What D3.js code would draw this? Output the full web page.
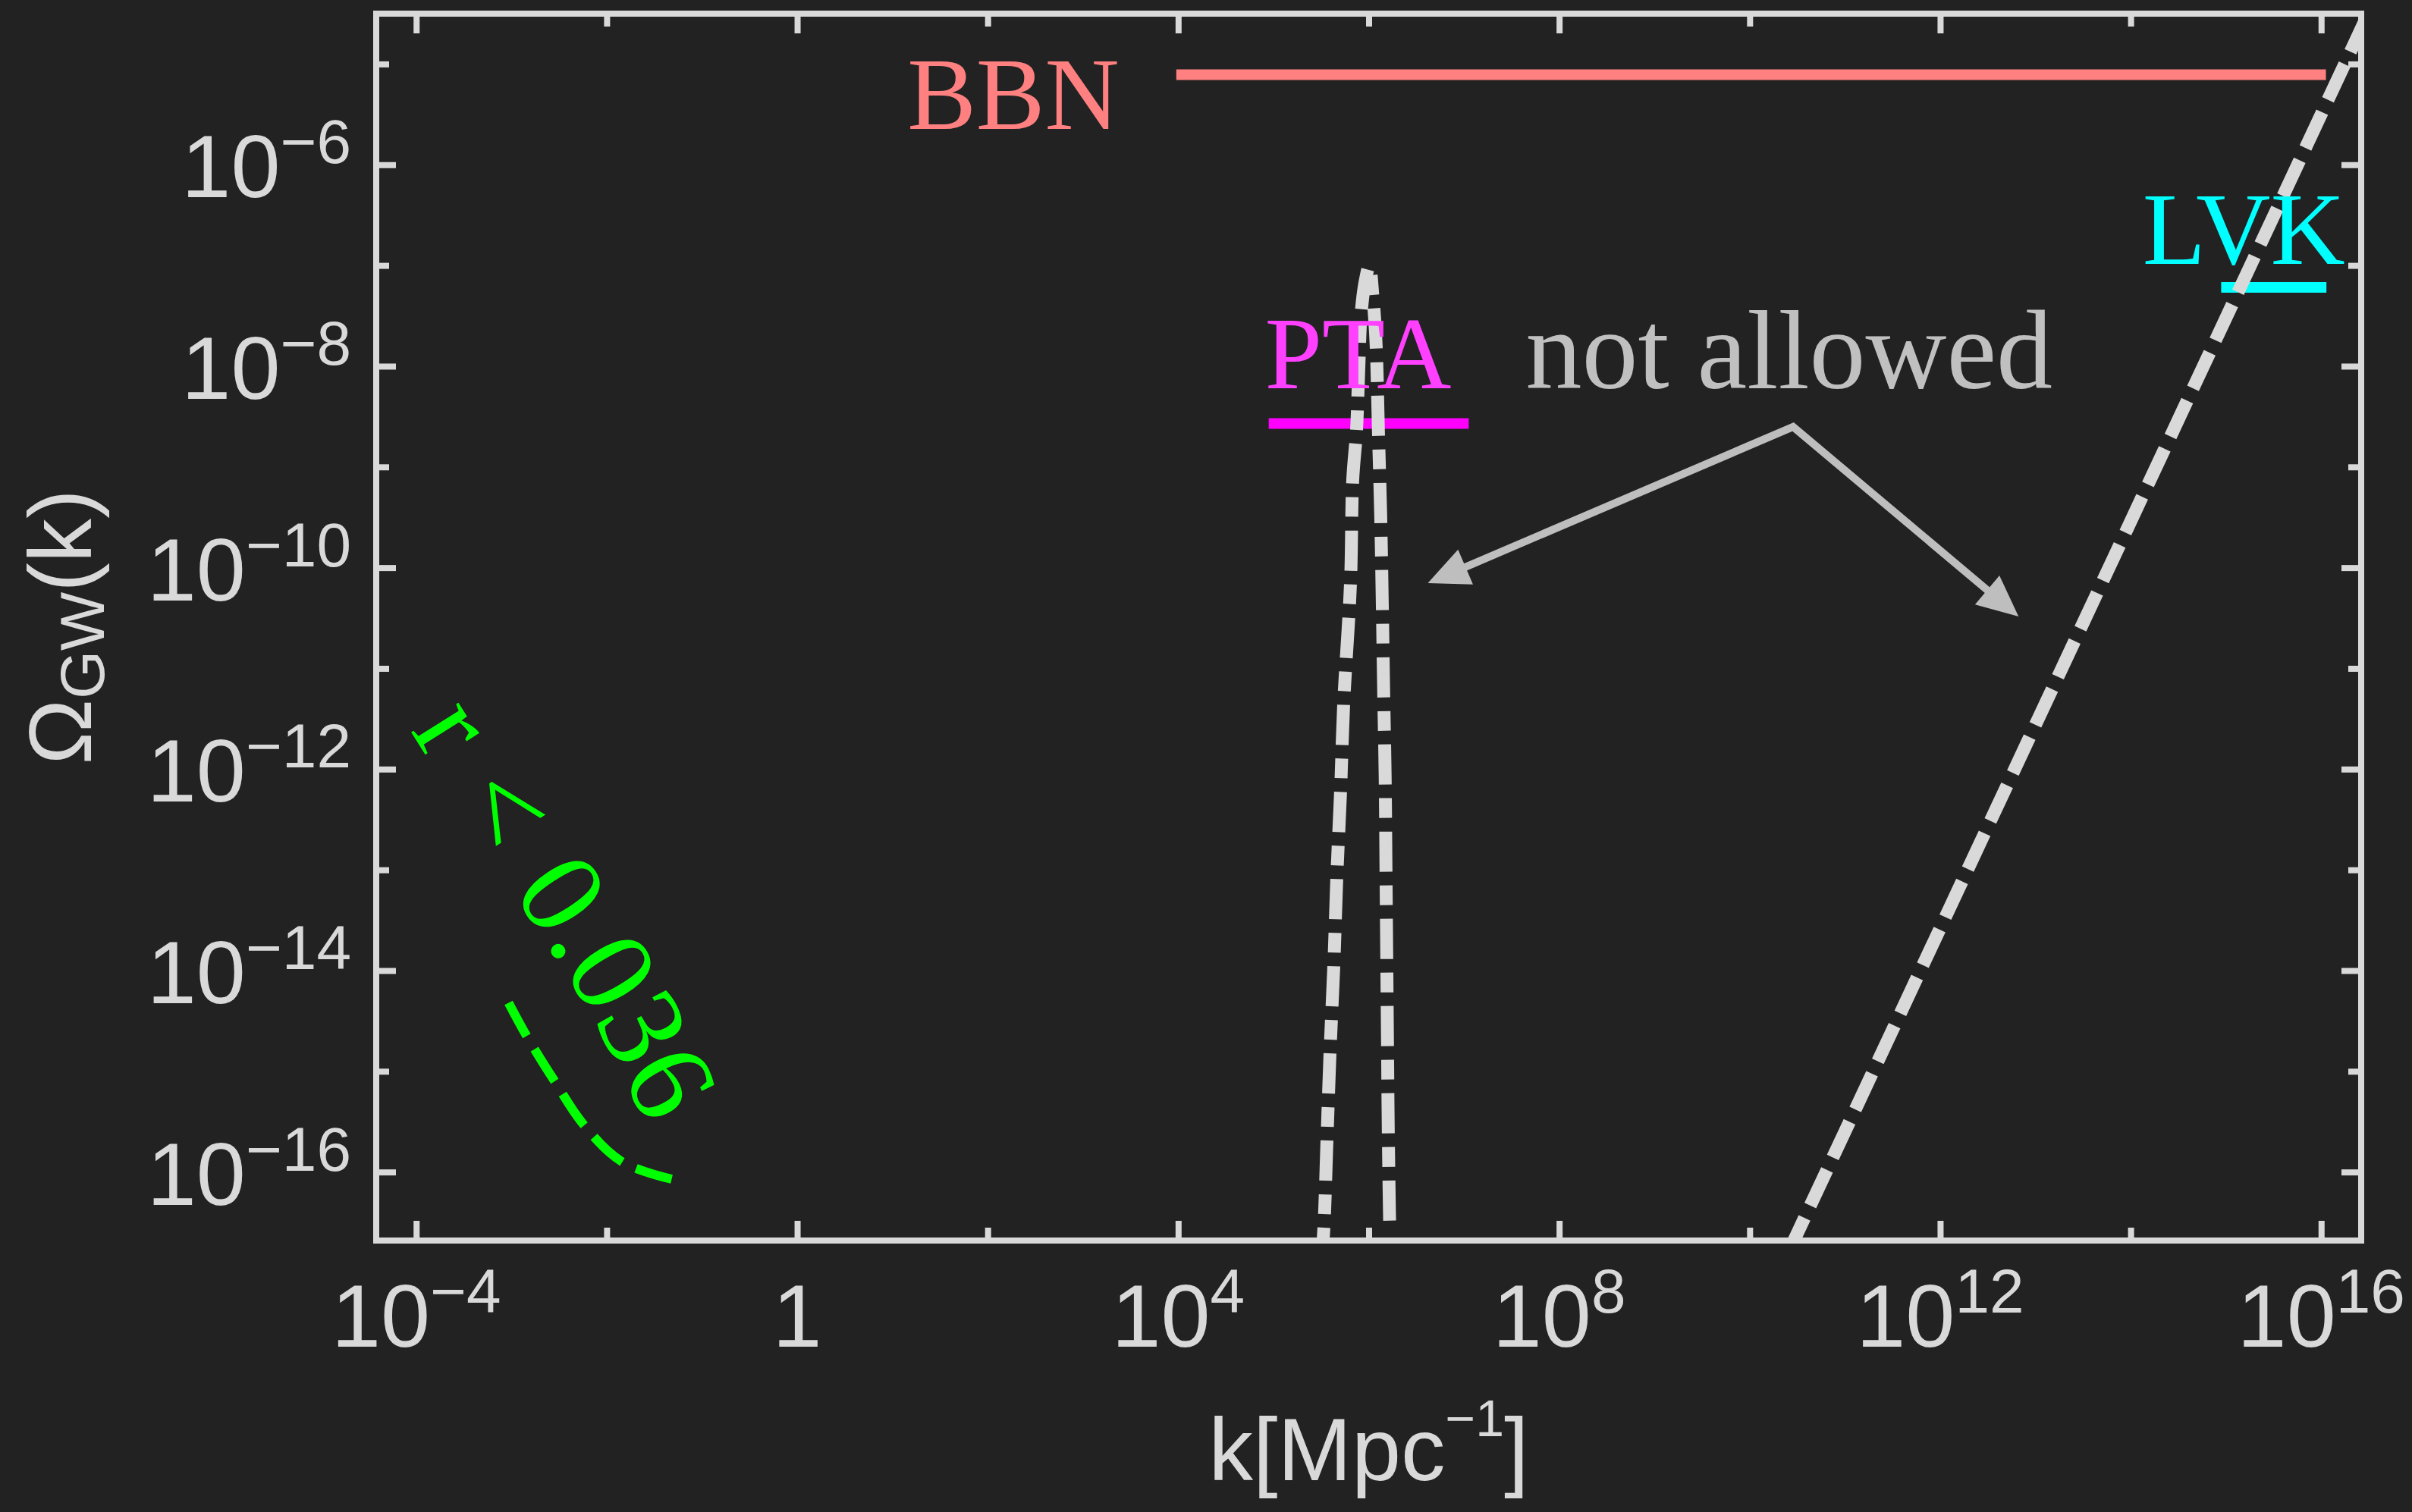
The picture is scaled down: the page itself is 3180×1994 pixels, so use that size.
<!DOCTYPE html>
<html>
<head>
<meta charset="utf-8">
<script src="https://cdn.jsdelivr.net/npm/d3@7"></script>
<style>
  html, body { margin: 0; padding: 0; background: #222222; }
  svg { display: block; }
</style>
</head>
<body>
<svg id="chart"></svg>
<script>
// every value below is log10(k [Mpc^-1]) or log10(Omega_GW)
const xTickExps  = [-4, 0, 4, 8, 12, 16];
const xMinorExps = [-2, 2, 6, 10, 14];
const yTickExps  = [-6, -8, -10, -12, -14, -16];
const yMinorExps = [-5, -7, -9, -11, -13, -15];

const xRangeExp = [-4.42, 16.42];
const yRangeExp = [-16.68, -4.5];

// narrow peak near k ~ 1e6 (dash-dot)
const peakLogK = [5.50, 5.530, 5.562, 5.594, 5.634, 5.665, 5.705, 5.737, 5.809, 5.832, 5.872, 5.895,
                  5.919, 5.959, 6.006, 6.046, 6.078, 6.102, 6.126, 6.142, 6.158, 6.173, 6.181, 6.189,
                  6.197, 6.205, 6.218, 6.222];
const peakLogOmega = [-16.95, -16.546, -15.680, -14.814, -13.948, -13.082, -12.216, -11.358, -10.153, -9.137, -8.640, -8.053,
                      -7.503, -7.179, -7.006, -7.330, -7.789, -8.640, -9.483, -10.312, -11.276, -12.081, -12.940, -13.806,
                      -14.672, -15.538, -16.404, -16.585];

// steep branch at high k (dashed)
const steepLogK     = [10.40, 15.08, 16.45];
const steepLogOmega = [-16.81, -7.36, -4.59];

// r < 0.036 tensor curve (green dashed)
const tensorLogK     = [-3.03, -2.846, -2.552, -2.242, -1.836, -1.318];
const tensorLogOmega = [-14.32, -14.64, -15.09, -15.53, -15.90, -16.07];

// baseline along which the green label runs
const tensorLabelLogK     = [-4.064, -3.181, -2.242, -1.700, -1.525];
const tensorLabelLogOmega = [-11.615, -12.94, -14.318, -15.304, -15.658];

// experimental bounds
const boundNames        = ["BBN", "PTA", "LVK"];
const boundLogKStart    = [3.98, 4.95, 14.95];
const boundLogKEnd      = [16.05, 7.05, 16.055];
const boundLogOmega     = [-5.106, -8.568, -7.217];
const boundLabelLogK    = [2.269, 5.888, 15.187];
const boundLabelLogOmega= [-5.643, -8.218, -6.983];

// "not allowed" annotation
const noteLogK = 10.414, noteLogOmega = -8.218;
const arrowApexLogK = 10.456, arrowApexLogOmega = -8.602;
const arrowTipLogK     = [6.621, 12.823];
const arrowTipLogOmega = [-10.153, -10.484];

const fg = "#d9d9d9";
const boundLine = { BBN: "#ff8080", PTA: "#ff00ff", LVK: "#00ffff" };
const boundText = { BBN: "#ff8080", PTA: "#ff40ff", LVK: "#00ffff" };
const green = "#00ff00";
const arrowGrey = "#bebebe";

const margin = { top: 18, right: 67, bottom: 358, left: 496 };
const W = 3180, H = 1994;
const width  = W - margin.left - margin.right;
const height = H - margin.top - margin.bottom;

const root = d3.select("#chart").attr("width", W).attr("height", H);
root.append("rect").attr("width", W).attr("height", H).attr("fill", "#222222");

const svg = root.append("g").attr("transform", `translate(${margin.left},${margin.top})`);

const x = d3.scaleLog().domain(xRangeExp.map(e => 10 ** e)).range([0, width]);
const y = d3.scaleLog().domain(yRangeExp.map(e => 10 ** e)).range([height, 0]);
const px = e => x(10 ** e);
const py = e => y(10 ** e);

const sans = "'Liberation Sans', Arial, Helvetica, sans-serif";
const serif = "'Liberation Serif', 'Times New Roman', serif";

svg.append("clipPath").attr("id", "plot-clip")
  .append("rect").attr("x", -4).attr("y", -4).attr("width", width + 8).attr("height", height + 8);

// ticks on all four sides, pointing inward
function tickAxis(axisFn, scale, exps, len, transform) {
  const g = svg.append("g").attr("transform", transform)
    .call(axisFn(scale).tickValues(exps.map(e => 10 ** e)).tickSize(-len).tickFormat(""));
  g.select(".domain").remove();
  g.selectAll("text").remove();
  g.selectAll("line").attr("stroke", fg).attr("stroke-width", 8);
  return g;
}
tickAxis(d3.axisBottom, x, xTickExps, 26, `translate(0,${height})`);
tickAxis(d3.axisBottom, x, xMinorExps, 17, `translate(0,${height})`);
tickAxis(d3.axisTop, x, xTickExps, 26, "translate(0,0)");
tickAxis(d3.axisTop, x, xMinorExps, 17, "translate(0,0)");
tickAxis(d3.axisLeft, y, yTickExps, 26, "translate(0,0)");
tickAxis(d3.axisLeft, y, yMinorExps, 17, "translate(0,0)");
tickAxis(d3.axisRight, y, yTickExps, 26, `translate(${width},0)`);
tickAxis(d3.axisRight, y, yMinorExps, 17, `translate(${width},0)`);

svg.append("rect")
  .attr("width", width).attr("height", height)
  .attr("fill", "none").attr("stroke", fg).attr("stroke-width", 8);

function powerLabel(sel, e) {
  if (e === 0) { sel.text("1"); return; }
  sel.append("tspan").text("10");
  sel.append("tspan").attr("font-size", 82).attr("dy", -45)
    .text(e < 0 ? "\u2212" + Math.abs(e) : String(e));
}

svg.append("g").selectAll("text")
  .data(xTickExps).join("text")
  .attr("x", e => px(e)).attr("y", height + 140)
  .attr("text-anchor", "middle")
  .attr("font-family", sans).attr("font-size", 117).attr("fill", fg)
  .each(function(e) { powerLabel(d3.select(this), e); });

svg.append("g").selectAll("text")
  .data(yTickExps).join("text")
  .attr("x", -33).attr("y", e => py(e) + 43)
  .attr("text-anchor", "end")
  .attr("font-family", sans).attr("font-size", 117).attr("fill", fg)
  .each(function(e) { powerLabel(d3.select(this), e); });

// axis titles
const xt = svg.append("text")
  .attr("x", width / 2).attr("y", height + 316)
  .attr("text-anchor", "middle")
  .attr("font-family", sans).attr("font-size", 117).attr("fill", fg);
xt.append("tspan").text("k[Mpc");
xt.append("tspan").attr("font-size", 68).attr("dy", -58).text("\u22121");
xt.append("tspan").attr("dy", 58).text("]");

const yt = svg.append("text")
  .attr("transform", `translate(-376,${height / 2}) rotate(-90)`)
  .attr("text-anchor", "middle")
  .attr("font-family", sans).attr("font-size", 116).attr("fill", fg);
yt.append("tspan").text("\u03A9");
yt.append("tspan").attr("font-size", 82).attr("dy", 17).text("GW");
yt.append("tspan").attr("dy", -17).text("(k)");

// bound segments and their labels
const plot = svg.append("g").attr("clip-path", "url(#plot-clip)");

plot.selectAll("line.bound")
  .data(boundNames).join("line")
  .attr("class", "bound")
  .attr("x1", (d, i) => px(boundLogKStart[i]))
  .attr("x2", (d, i) => px(boundLogKEnd[i]))
  .attr("y1", (d, i) => py(boundLogOmega[i]))
  .attr("y2", (d, i) => py(boundLogOmega[i]))
  .attr("stroke", d => boundLine[d])
  .attr("stroke-width", 14);

svg.selectAll("text.bound")
  .data(boundNames).join("text")
  .attr("class", "bound")
  .attr("x", (d, i) => px(boundLabelLogK[i]))
  .attr("y", (d, i) => py(boundLabelLogOmega[i]))
  .attr("text-anchor", "middle")
  .attr("font-family", serif).attr("font-size", 136)
  .attr("fill", d => boundText[d])
  .text(d => d);

svg.append("text")
  .attr("x", px(noteLogK)).attr("y", py(noteLogOmega))
  .attr("text-anchor", "middle")
  .attr("font-family", serif).attr("font-size", 148)
  .attr("fill", "#c0c0c0")
  .text("not allowed");

// arrows
const apex = [px(arrowApexLogK), py(arrowApexLogOmega)];
const tips = arrowTipLogK.map((k, i) => [px(k), py(arrowTipLogOmega[i])]);
const headLen = 54, headHalf = 25;
const shaftEnds = tips.map(t => {
  const dx = t[0] - apex[0], dy = t[1] - apex[1];
  const L = Math.hypot(dx, dy);
  return [t[0] - dx / L * 36, t[1] - dy / L * 36];
});
svg.append("path")
  .attr("d", d3.line()([shaftEnds[0], apex, shaftEnds[1]]))
  .attr("fill", "none").attr("stroke", arrowGrey)
  .attr("stroke-width", 10).attr("stroke-linejoin", "miter");
svg.selectAll("path.head")
  .data(tips).join("path")
  .attr("class", "head")
  .attr("d", t => {
    const dx = t[0] - apex[0], dy = t[1] - apex[1];
    const L = Math.hypot(dx, dy);
    const ux = dx / L, uy = dy / L;
    const bx = t[0] - ux * headLen, by = t[1] - uy * headLen;
    return d3.line()([t, [bx - uy * headHalf, by + ux * headHalf], [bx + uy * headHalf, by - ux * headHalf]]) + "Z";
  })
  .attr("fill", arrowGrey);

// white model curves, drawn over the bounds
const curve = d3.line()
  .x(d => px(d[0])).y(d => py(d[1]))
  .curve(d3.curveCatmullRom.alpha(0.5));

plot.append("path")
  .attr("d", curve(peakLogK.map((k, i) => [k, peakLogOmega[i]])))
  .attr("fill", "none").attr("stroke", fg).attr("stroke-width", 17)
  .attr("stroke-dasharray", "53,18,26,18").attr("stroke-linejoin", "round");

plot.append("path")
  .attr("d", d3.line().x(d => px(d[0])).y(d => py(d[1]))(steepLogK.map((k, i) => [k, steepLogOmega[i]])))
  .attr("fill", "none").attr("stroke", fg).attr("stroke-width", 17)
  .attr("stroke-dasharray", "52,18");

// green tensor curve and its label
plot.append("path")
  .attr("d", curve(tensorLogK.map((k, i) => [k, tensorLogOmega[i]])))
  .attr("fill", "none").attr("stroke", green).attr("stroke-width", 12)
  .attr("stroke-dasharray", "50,20");

svg.append("path")
  .attr("id", "rlabel-path")
  .attr("d", curve(tensorLabelLogK.map((k, i) => [k, tensorLabelLogOmega[i]])))
  .attr("fill", "none");

svg.append("text")
  .attr("font-family", serif).attr("font-size", 160).attr("fill", green)
  .append("textPath").attr("href", "#rlabel-path")
  .text("r\u2004<\u20040.036");
</script>
</body>
</html>
